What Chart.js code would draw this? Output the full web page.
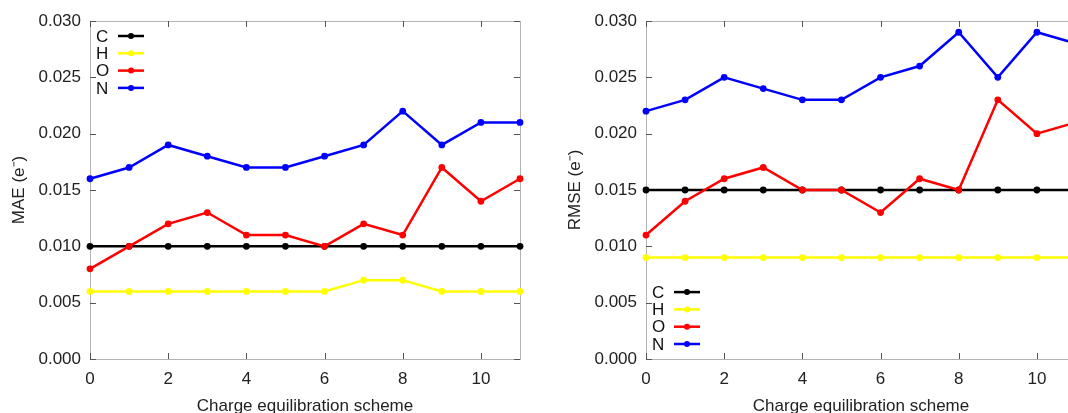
<!DOCTYPE html>
<html>
<head>
<meta charset="utf-8">
<script src="https://cdn.jsdelivr.net/npm/chart.js@4.4.1/dist/chart.umd.min.js"></script>
<style>
  html, body { margin: 0; padding: 0; background: #fff; }
  body { width: 1068px; height: 413px; overflow: hidden; position: relative; }
  canvas { position: absolute; top: 0; }
  #maeChart { left: 0; }
  #rmseChart { left: 556px; }
</style>
</head>
<body>
<canvas id="maeChart" width="540" height="413"></canvas>
<canvas id="rmseChart" width="540" height="413"></canvas>
<script>
// values
const schemes = [0, 1, 2, 3, 4, 5, 6, 7, 8, 9, 10, 11];
const elements = ['C', 'H', 'O', 'N'];
const colours = ['#000000', '#ffff00', '#ff0000', '#0000ff'];

const maeC = [0.010, 0.010, 0.010, 0.010, 0.010, 0.010, 0.010, 0.010, 0.010, 0.010, 0.010, 0.010];
const maeH = [0.006, 0.006, 0.006, 0.006, 0.006, 0.006, 0.006, 0.007, 0.007, 0.006, 0.006, 0.006];
const maeO = [0.008, 0.010, 0.012, 0.013, 0.011, 0.011, 0.010, 0.012, 0.011, 0.017, 0.014, 0.016];
const maeN = [0.016, 0.017, 0.019, 0.018, 0.017, 0.017, 0.018, 0.019, 0.022, 0.019, 0.021, 0.021];

const rmseC = [0.015, 0.015, 0.015, 0.015, 0.015, 0.015, 0.015, 0.015, 0.015, 0.015, 0.015, 0.015];
const rmseH = [0.009, 0.009, 0.009, 0.009, 0.009, 0.009, 0.009, 0.009, 0.009, 0.009, 0.009, 0.009];
const rmseO = [0.011, 0.014, 0.016, 0.017, 0.015, 0.015, 0.013, 0.016, 0.015, 0.023, 0.020, 0.021];
const rmseN = [0.022, 0.023, 0.025, 0.024, 0.023, 0.023, 0.025, 0.026, 0.029, 0.025, 0.029, 0.028];

const FONT = "'Liberation Sans', Arial, Helvetica, sans-serif";

// gnuplot-ish frame: grey border with inward ticks on all four sides
const framePlugin = {
  id: 'frame',
  beforeDatasetsDraw(chart) {
    const {ctx, chartArea: a, scales} = chart;
    ctx.save();
    ctx.strokeStyle = '#b4b4b4';
    ctx.lineWidth = 1;
    ctx.strokeRect(a.left + 0.5, a.top + 0.5, a.right - a.left, a.bottom - a.top);
    ctx.strokeStyle = '#555';
    ctx.beginPath();
    scales.x.ticks.forEach(t => {
      const px = Math.round(scales.x.getPixelForValue(t.value)) + 0.5;
      ctx.moveTo(px, a.bottom); ctx.lineTo(px, a.bottom - 6);
      ctx.moveTo(px, a.top); ctx.lineTo(px, a.top + 6);
    });
    scales.y.ticks.forEach(t => {
      const py = Math.round(scales.y.getPixelForValue(t.value)) + 0.5;
      ctx.moveTo(a.left, py); ctx.lineTo(a.left + 6, py);
      ctx.moveTo(a.right, py); ctx.lineTo(a.right - 6, py);
    });
    ctx.stroke();
    ctx.restore();
  }
};

// key drawn as "label  ---o---" like gnuplot
const keyPlugin = {
  id: 'gpKey',
  afterDraw(chart, args, opts) {
    const {ctx, chartArea: a} = chart;
    const n = chart.data.datasets.length;
    ctx.save();
    ctx.font = '17px ' + FONT;
    ctx.textAlign = 'left';
    ctx.textBaseline = 'middle';
    chart.data.datasets.forEach((ds, i) => {
      const y = opts.where === 'top' ? a.top + 15 + i * 17.3 : a.bottom - 15 - (n - 1 - i) * 17.3;
      ctx.fillStyle = '#111';
      ctx.fillText(ds.label, a.left + 6, y + 1);
      ctx.strokeStyle = ds.borderColor;
      ctx.lineWidth = 2.5;
      ctx.beginPath();
      ctx.moveTo(a.left + 28, y); ctx.lineTo(a.left + 54, y);
      ctx.stroke();
      ctx.fillStyle = ds.borderColor;
      ctx.beginPath();
      ctx.arc(a.left + 41, y, 3, 0, Math.PI * 2);
      ctx.fill();
    });
    ctx.restore();
  }
};

function makeSets(series) {
  return series.map((vals, i) => ({
    label: elements[i],
    data: schemes.map((s, k) => ({x: s, y: vals[k]})),
    borderColor: colours[i],
    backgroundColor: colours[i],
    borderWidth: 2.5,
    pointRadius: 3.4,
    pointBorderWidth: 0,
    pointHoverRadius: 3.4,
    tension: 0,
    clip: false,
    order: series.length - i
  }));
}

function makeChart(id, series, yTitle, keyWhere) {
  return new Chart(document.getElementById(id), {
    type: 'line',
    data: { datasets: makeSets(series) },
    options: {
      responsive: false,
      animation: false,
      events: [],
      layout: { padding: { top: 21, right: 20, left: 0, bottom: 0 } },
      plugins: {
        legend: { display: false },
        tooltip: { enabled: false },
        gpKey: { where: keyWhere }
      },
      scales: {
        x: {
          type: 'linear',
          min: 0,
          max: 11,
          afterFit(scale) { scale.height = 54; },
          grid: { display: false, drawTicks: false },
          border: { display: false },
          ticks: { stepSize: 2, includeBounds: false, padding: 10, color: '#222', font: { family: FONT, size: 17 } },
          title: { display: true, text: 'Charge equilibration scheme', color: '#222', padding: { top: 0, bottom: -4 }, font: { family: FONT, size: 17 } }
        },
        y: {
          min: 0,
          max: 0.03,
          afterFit(scale) { scale.width = 90; },
          grid: { display: false, drawTicks: false },
          border: { display: false },
          ticks: { stepSize: 0.005, padding: 9, color: '#222', font: { family: FONT, size: 17 }, callback: v => v.toFixed(3) },
          title: { display: true, text: yTitle, color: '#222', padding: { top: 9, bottom: 0 }, font: { family: FONT, size: 17 } }
        }
      }
    },
    plugins: [framePlugin, keyPlugin]
  });
}

const maeChart = makeChart('maeChart', [maeC, maeH, maeO, maeN], 'MAE (e\u207B)', 'top');
const rmseChart = makeChart('rmseChart', [rmseC, rmseH, rmseO, rmseN], 'RMSE (e\u207B)', 'bottom');
</script>
</body>
</html>
